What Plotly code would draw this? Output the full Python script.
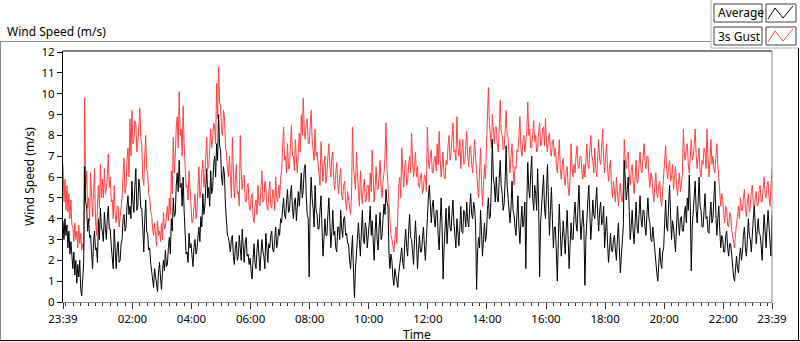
import numpy as np
import pandas as pd
import plotly.graph_objects as go

# ---------------- data (2-minute samples) ----------------
start_time = "2016-01-01 23:39"
sample_minutes = 2

gust = [
    6.6, 4.8, 5.9, 4.4, 5.6, 4.3, 5.2, 4.0, 4.9, 3.7,
    3.6, 2.9, 3.8, 3.0, 3.4, 2.6, 3.7, 2.8, 3.3, 2.5,
    2.8, 2.5, 9.8, 5.5, 6.3, 4.5, 5.0, 3.9, 6.2, 4.6,
    4.1, 5.2, 6.4, 4.0, 3.2, 4.6, 5.6, 4.5, 6.6, 5.0,
    5.9, 5.0, 6.4, 5.2, 5.4, 6.0, 7.1, 5.5, 6.0, 4.8,
    4.9, 4.0, 5.6, 4.2, 3.8, 4.6, 4.6, 3.6, 4.1, 4.8,
    5.0, 6.1, 6.9, 5.2, 5.6, 6.8, 7.4, 6.0, 8.8, 7.0,
    9.2, 7.6, 7.8, 8.7, 8.5, 7.2, 7.6, 8.4, 9.3, 7.9,
    7.5, 6.0, 5.6, 7.0, 8.0, 6.4, 6.2, 5.2, 5.0, 4.4,
    4.2, 3.5, 3.2, 3.8, 3.0, 2.7, 3.9, 3.2, 3.4, 2.9,
    3.8, 3.0, 4.3, 3.5, 3.6, 4.2, 4.6, 3.9, 5.0, 4.2,
    6.3, 5.2, 7.9, 6.2, 7.0, 8.4, 8.9, 7.4, 10.1, 8.0,
    8.3, 7.0, 9.4, 7.6, 6.4, 5.5, 5.6, 4.9, 6.3, 5.4,
    4.6, 3.8, 3.9, 4.8, 5.2, 4.0, 4.3, 5.4, 6.5, 5.0,
    5.3, 6.2, 6.8, 5.5, 6.0, 7.0, 7.9, 6.4, 6.5, 7.4,
    8.3, 7.4, 7.8, 8.6, 8.4, 7.6, 10.5, 8.8, 11.3, 9.6,
    9.4, 8.2, 8.0, 9.2, 8.9, 7.4, 7.2, 6.4, 6.0, 7.0,
    6.2, 5.0, 7.9, 6.3, 5.0, 5.8, 6.6, 5.2, 5.3, 4.6,
    8.0, 6.2, 5.4, 6.0, 6.1, 4.9, 4.8, 5.5, 5.7, 4.6,
    4.4, 5.0, 5.2, 4.1, 3.8, 4.6, 4.9, 4.2, 5.6, 4.7,
    4.6, 5.4, 6.3, 4.8, 4.9, 5.8, 5.5, 4.6, 4.4, 5.2,
    5.8, 4.6, 4.5, 5.4, 5.2, 4.4, 6.0, 5.0, 4.8, 5.6,
    5.0, 5.9, 6.3, 7.4, 8.4, 6.8, 7.0, 6.2, 7.6, 6.4,
    6.4, 7.6, 8.5, 7.0, 7.0, 6.3, 7.8, 6.9, 6.2, 7.2,
    8.1, 7.2, 9.0, 8.0, 9.8, 8.2, 7.8, 8.6, 8.8, 7.6,
    7.6, 8.4, 9.2, 7.8, 7.4, 6.8, 8.3, 7.0, 7.2, 6.6,
    6.4, 5.6, 7.7, 6.6, 5.8, 6.5, 7.0, 5.7, 6.1, 7.0,
    7.6, 6.5, 6.0, 7.0, 7.2, 5.8, 5.4, 6.2, 6.7, 5.6,
    5.2, 6.0, 6.4, 5.1, 4.9, 5.6, 5.8, 4.8, 4.4, 5.3,
    5.0, 4.5, 4.2, 5.1, 8.4, 6.5, 6.0, 5.4, 7.2, 5.8,
    5.3, 4.6, 6.3, 5.2, 4.7, 5.6, 5.9, 4.8, 4.9, 5.6,
    5.6, 4.8, 6.2, 5.3, 7.3, 6.0, 4.8, 5.6, 6.5, 5.4,
    5.4, 6.0, 6.8, 5.5, 5.0, 5.8, 6.2, 7.0, 8.6, 6.4,
    5.6, 4.6, 4.0, 3.2, 3.0, 2.6, 2.4, 3.0, 3.6, 2.8,
    4.6, 5.6, 6.0, 5.0, 7.4, 6.0, 5.5, 6.4, 6.8, 5.6,
    5.8, 6.6, 7.0, 6.2, 8.1, 6.8, 6.0, 6.5, 7.2, 6.0,
    6.5, 5.6, 5.5, 6.0, 6.2, 5.2, 5.4, 6.1, 6.0, 5.3,
    8.4, 6.8, 6.4, 7.0, 7.3, 6.2, 6.2, 6.9, 7.0, 6.3,
    7.6, 6.6, 8.2, 6.9, 6.0, 6.6, 7.2, 6.0, 5.9, 6.8,
    6.6, 7.5, 8.0, 6.8, 7.1, 7.9, 8.6, 7.2, 7.3, 6.8,
    8.9, 7.4, 7.0, 7.8, 6.4, 7.2, 7.8, 6.6, 6.7, 7.5,
    8.2, 7.0, 6.5, 7.4, 7.5, 6.6, 6.2, 7.0, 7.8, 6.9,
    6.1, 5.4, 5.0, 6.2, 7.4, 5.8, 4.6, 5.5, 6.6, 5.9,
    7.2, 8.4, 10.3, 8.6, 8.0, 7.4, 9.0, 8.0, 7.6, 8.4,
    8.4, 7.6, 7.2, 8.2, 9.7, 8.2, 8.0, 7.3, 7.4, 8.2,
    9.2, 8.0, 7.9, 7.0, 6.2, 7.0, 7.6, 6.4, 5.6, 6.5,
    6.4, 7.3, 7.2, 8.0, 8.9, 7.4, 7.0, 7.6, 8.0, 7.2,
    7.6, 8.2, 9.6, 8.0, 8.3, 7.4, 7.4, 8.1, 8.7, 7.7,
    8.0, 7.2, 7.3, 8.2, 8.6, 7.5, 7.6, 8.3, 8.4, 7.5,
    8.8, 7.6, 7.2, 7.9, 8.1, 7.1, 7.0, 7.7, 7.8, 7.0,
    7.4, 6.6, 6.2, 7.0, 7.8, 6.4, 5.9, 6.6, 6.9, 6.0,
    5.6, 6.3, 6.5, 5.5, 5.1, 6.0, 7.6, 6.4, 6.0, 6.6,
    6.2, 7.0, 7.5, 6.5, 6.4, 7.0, 7.0, 6.2, 5.9, 6.6,
    6.0, 6.8, 7.6, 6.6, 6.4, 7.3, 8.0, 7.0, 6.8, 6.2,
    7.4, 6.4, 6.0, 7.0, 7.8, 6.8, 6.6, 7.4, 8.3, 7.0,
    6.2, 7.0, 7.6, 6.4, 5.8, 6.5, 6.8, 5.6, 5.0, 5.8,
    5.4, 4.8, 6.0, 5.2, 4.6, 5.3, 5.7, 5.0, 4.8, 5.5,
    7.8, 6.8, 6.4, 7.0, 7.2, 6.1, 5.6, 6.3, 6.6, 5.8,
    5.2, 6.0, 6.8, 5.7, 5.8, 6.6, 7.2, 6.3, 6.2, 6.9,
    7.6, 6.8, 6.4, 7.0, 7.0, 6.0, 5.5, 6.2, 6.0, 5.3,
    4.8, 5.6, 6.2, 5.2, 5.0, 5.6, 5.8, 4.9, 4.6, 5.4,
    6.2, 6.8, 7.5, 6.4, 5.9, 6.5, 6.8, 5.8, 6.0, 6.6,
    5.4, 6.0, 6.5, 5.6, 5.1, 5.7, 6.2, 5.3, 5.6, 6.2,
    8.3, 7.0, 6.8, 7.4, 7.6, 6.6, 6.2, 7.0, 7.8, 6.8,
    7.0, 7.6, 8.3, 7.0, 6.4, 7.0, 7.4, 6.2, 6.0, 6.8,
    6.6, 7.4, 7.2, 6.4, 8.3, 7.0, 6.0, 6.8, 7.8, 6.6,
    7.0, 6.4, 6.2, 7.0, 7.6, 6.6, 5.8, 5.0, 4.6, 5.2,
    4.9, 4.2, 3.8, 4.6, 4.4, 3.7, 3.6, 4.3, 4.2, 3.5,
    3.2, 2.8, 2.6, 3.3, 3.8, 4.4, 4.6, 4.0, 5.0, 4.4,
    4.4, 5.0, 5.4, 4.5, 4.1, 4.8, 5.2, 4.3, 4.6, 5.3,
    5.6, 4.8, 4.4, 5.0, 5.3, 4.6, 4.7, 5.4, 5.6, 4.8,
    4.8, 5.4, 6.0, 5.2, 5.0, 5.6, 5.8, 5.0, 4.6, 5.6,
    6.4,
]

average = [
    3.9, 3.0, 4.0, 3.2, 3.7, 2.6, 3.4, 2.3, 2.9, 2.0,
    1.6, 2.4, 1.3, 2.0, 0.9, 1.8, 1.2, 2.0, 0.6, 0.3,
    1.2, 1.9, 6.5, 4.8, 4.6, 3.4, 4.0, 3.1, 3.2, 2.6,
    1.6, 2.8, 3.4, 2.5, 2.6, 1.9, 4.0, 3.0, 4.5, 3.6,
    3.4, 2.9, 4.3, 3.6, 3.0, 4.0, 4.6, 3.5, 3.5, 2.7,
    2.3, 1.6, 3.5, 2.2, 1.6, 2.6, 2.9, 1.9, 2.0, 2.8,
    3.0, 4.0, 4.2, 3.4, 3.6, 4.6, 5.1, 4.2, 4.6, 4.0,
    5.8, 4.8, 4.3, 5.6, 6.4, 4.4, 4.6, 5.9, 5.5, 4.5,
    4.5, 3.6, 2.4, 3.9, 4.9, 3.4, 3.2, 2.5, 2.6, 1.9,
    1.5, 1.0, 0.7, 1.6, 1.2, 0.6, 0.5, 1.4, 1.9, 1.2,
    0.6, 1.4, 2.0, 1.5, 2.5, 1.7, 1.8, 2.6, 3.1, 2.3,
    4.0, 3.4, 5.0, 4.1, 4.2, 5.6, 6.2, 5.3, 6.8, 5.5,
    5.7, 4.6, 6.0, 4.4, 3.0, 2.3, 2.4, 1.9, 3.3, 2.6,
    2.8, 2.0, 1.7, 2.6, 3.0, 2.3, 2.5, 3.1, 3.6, 2.9,
    4.1, 3.6, 5.2, 4.2, 4.6, 5.5, 6.4, 5.0, 5.5, 4.6,
    6.3, 5.2, 5.5, 6.6, 7.0, 6.0, 7.6, 6.8, 9.0, 7.5,
    7.3, 6.0, 5.6, 6.5, 6.1, 4.6, 4.0, 3.2, 3.1, 2.6,
    2.4, 3.0, 3.2, 2.2, 1.8, 2.6, 2.9, 2.0, 2.2, 3.2,
    2.7, 2.0, 3.5, 2.4, 1.9, 2.8, 3.1, 2.2, 2.3, 1.8,
    2.1, 1.5, 1.1, 2.0, 2.8, 1.9, 1.6, 2.5, 3.0, 2.2,
    1.5, 2.3, 3.0, 2.4, 2.2, 1.6, 3.3, 2.6, 1.9, 2.8,
    2.6, 3.2, 3.4, 2.5, 2.4, 3.0, 3.6, 2.6, 2.9, 3.5,
    3.2, 4.0, 3.8, 4.5, 5.0, 4.2, 4.0, 4.8, 5.4, 4.3,
    4.4, 5.2, 5.6, 4.5, 4.0, 4.8, 5.0, 3.9, 4.6, 5.3,
    4.6, 5.8, 6.2, 5.0, 5.4, 6.4, 6.6, 5.1, 4.2, 4.0,
    1.2, 4.6, 6.0, 5.0, 4.5, 3.6, 5.6, 4.4, 4.2, 3.5,
    3.5, 4.4, 5.1, 3.6, 2.2, 3.0, 4.0, 3.2, 3.2, 4.2,
    5.0, 3.8, 2.6, 3.4, 4.4, 3.2, 3.4, 2.6, 2.4, 3.6,
    3.6, 3.0, 4.4, 3.5, 3.1, 4.0, 4.1, 3.2, 3.3, 2.8,
    2.8, 2.0, 1.6, 2.4, 3.2, 1.4, 0.2, 1.6, 2.5, 3.3,
    3.8, 3.0, 2.2, 3.4, 4.4, 3.0, 2.8, 3.8, 3.5, 2.6,
    3.1, 3.8, 4.6, 3.2, 3.9, 2.6, 2.0, 3.4, 4.2, 3.0,
    2.5, 3.6, 4.3, 3.0, 3.2, 4.0, 4.7, 4.2, 5.4, 4.8,
    4.6, 2.4, 1.6, 2.3, 2.0, 1.2, 0.8, 1.6, 1.3, 0.9,
    0.7, 1.4, 1.8, 2.4, 2.6, 1.9, 1.6, 2.8, 3.5, 2.6,
    2.2, 3.4, 4.2, 3.1, 3.0, 2.4, 1.8, 3.0, 3.9, 2.8,
    1.6, 2.5, 3.2, 2.4, 2.4, 3.0, 3.6, 2.7, 2.0, 3.0,
    4.2, 5.0, 5.6, 4.4, 3.8, 4.6, 4.9, 4.0, 3.6, 4.4,
    4.4, 3.2, 2.5, 3.8, 5.0, 3.6, 1.1, 2.6, 3.7, 4.5,
    2.8, 3.6, 4.6, 3.6, 3.4, 4.2, 4.9, 3.8, 3.0, 2.6,
    4.0, 3.2, 2.7, 3.6, 4.6, 3.4, 3.3, 4.4, 4.2, 3.6,
    4.8, 3.9, 3.6, 4.5, 5.2, 4.2, 4.0, 4.8, 4.5, 3.7,
    0.6, 2.4, 3.1, 2.6, 4.4, 3.4, 2.2, 3.0, 3.8, 2.9,
    3.2, 4.4, 5.0, 4.0, 4.1, 5.6, 7.8, 6.0, 5.6, 4.8,
    6.0, 5.0, 4.8, 5.9, 6.8, 5.6, 5.2, 4.4, 4.7, 5.8,
    7.5, 5.6, 5.0, 4.3, 3.8, 4.6, 5.8, 4.4, 4.2, 3.6,
    3.2, 4.2, 5.1, 3.6, 2.8, 3.8, 4.6, 3.6, 3.9, 4.8,
    1.6, 4.8, 6.7, 5.4, 5.0, 6.2, 7.0, 5.0, 4.4, 5.6,
    5.2, 4.4, 6.4, 4.8, 1.2, 3.8, 4.6, 5.6, 6.1, 4.5,
    4.0, 5.4, 6.6, 4.8, 3.2, 4.4, 5.5, 4.0, 2.6, 3.6,
    3.6, 2.4, 1.0, 3.0, 4.7, 3.4, 2.2, 3.0, 3.9, 3.1,
    2.3, 3.5, 4.4, 3.0, 1.6, 2.8, 3.8, 3.0, 3.0, 4.2,
    4.8, 3.8, 3.4, 4.6, 5.6, 4.0, 3.0, 3.8, 4.4, 3.5,
    0.8, 3.0, 4.2, 4.9, 5.6, 4.0, 3.0, 3.8, 4.9, 4.2,
    4.0, 4.8, 5.5, 4.2, 3.4, 4.4, 4.8, 3.7, 3.9, 4.6,
    2.6, 3.4, 4.1, 2.8, 1.9, 2.6, 3.3, 2.5, 2.4, 3.0,
    3.2, 2.5, 2.0, 3.0, 3.8, 2.6, 1.4, 2.2, 2.8, 3.6,
    6.8, 5.6, 4.9, 5.4, 6.0, 4.4, 3.0, 3.6, 4.4, 3.4,
    2.8, 3.8, 4.8, 3.6, 3.3, 4.2, 5.1, 4.0, 3.6, 4.4,
    4.4, 3.6, 3.2, 4.2, 5.0, 4.0, 3.8, 3.0, 2.9, 3.6,
    3.0, 2.2, 1.8, 1.4, 1.0, 2.0, 2.6, 1.9, 1.6, 2.4,
    2.6, 3.8, 4.9, 3.6, 3.4, 4.6, 5.6, 4.2, 3.0, 3.9,
    3.6, 3.0, 2.4, 3.6, 4.6, 3.8, 3.2, 4.0, 4.1, 3.4,
    3.4, 4.2, 4.6, 3.8, 5.0, 4.4, 6.1, 4.6, 1.5, 3.6,
    4.2, 5.0, 5.8, 4.4, 3.8, 4.8, 6.0, 4.6, 4.4, 3.6,
    3.6, 4.4, 5.2, 4.0, 4.1, 3.4, 3.3, 4.2, 4.8, 3.8,
    4.0, 5.0, 5.8, 4.2, 3.2, 4.0, 4.6, 3.4, 2.6, 3.2,
    3.0, 2.4, 2.4, 3.2, 3.4, 2.6, 2.2, 2.8, 2.8, 2.3,
    1.6, 1.2, 1.0, 1.8, 2.2, 1.6, 1.4, 2.2, 2.6, 2.0,
    2.4, 3.2, 3.6, 2.6, 2.2, 3.0, 4.0, 3.2, 3.0, 2.4,
    3.4, 4.0, 4.6, 3.6, 2.8, 3.4, 4.0, 3.3, 3.2, 2.7,
    2.0, 3.2, 4.2, 3.4, 2.6, 3.6, 4.4, 3.6, 3.0, 2.2,
    4.2,
]

x_tick_labels = ["23:39", "02:00", "04:00", "06:00", "08:00", "10:00", "12:00",
                 "14:00", "16:00", "18:00", "20:00", "22:00", "23:39"]
x_tick_times = ["2016-01-01 23:39", "2016-01-02 02:00", "2016-01-02 04:00",
                "2016-01-02 06:00", "2016-01-02 08:00", "2016-01-02 10:00",
                "2016-01-02 12:00", "2016-01-02 14:00", "2016-01-02 16:00",
                "2016-01-02 18:00", "2016-01-02 20:00", "2016-01-02 22:00",
                "2016-01-02 23:39"]
y_ticks = list(range(0, 13))

# ---------------- figure ----------------
t0 = pd.Timestamp(start_time)
times_gust = t0 + pd.to_timedelta(np.arange(len(gust)) * sample_minutes, unit="min")
times_avg = t0 + pd.to_timedelta(np.arange(len(average)) * sample_minutes, unit="min")
t_end = pd.Timestamp(x_tick_times[-1])
minor_vals = pd.date_range("2016-01-01 23:45", t_end, freq="15min")

FONT = "Noto Sans"
W_PX, H_PX = 800, 342
L, R, T, B = 63, 28, 51, 40
PW, PH = W_PX - L - R, H_PX - T - B


def px(x):
    return (x - L) / PW


def py(y):
    return (H_PX - B - y) / PH


fig = go.Figure()
fig.add_trace(go.Scatter(x=times_gust, y=gust, mode="lines", name="3s Gust",
                         line=dict(color="#ff4040", width=1), showlegend=False))
fig.add_trace(go.Scatter(x=times_avg, y=average, mode="lines", name="Average",
                         line=dict(color="#000000", width=1), showlegend=False))

fig.update_layout(
    width=W_PX, height=H_PX,
    margin=dict(l=L, r=R, t=T, b=B, pad=0, autoexpand=False),
    paper_bgcolor="white", plot_bgcolor="white",
    font=dict(family=FONT, size=12, color="black"),
    showlegend=False,
)

fig.update_xaxes(
    range=[t0, t_end], type="date",
    tickmode="array", tickvals=x_tick_times, ticktext=x_tick_labels,
    ticks="outside", ticklen=6, tickwidth=1, tickcolor="#333333",
    tickfont=dict(family=FONT, size=11.5, color="black"),
    showgrid=False, zeroline=False,
    showline=True, linecolor="#8a8a8a", linewidth=1,
    minor=dict(tickmode="array", tickvals=list(minor_vals), ticks="outside",
               ticklen=3, tickwidth=1, tickcolor="#333333", showgrid=False),
    title=dict(text="", font=dict(family=FONT, size=12)),
    automargin=False,
)
fig.update_yaxes(
    range=[0, 12.05], tickmode="array", tickvals=y_ticks,
    ticks="outside", ticklen=5, tickwidth=1, tickcolor="black",
    tickfont=dict(family=FONT, size=11.5, color="black"),
    showgrid=False, zeroline=False,
    showline=True, linecolor="black", linewidth=1,
    title=dict(text="Wind Speed (m/s)", font=dict(family=FONT, size=12), standoff=4),
    automargin=False,
)

shapes = []
# plot frame: top black, right gray
shapes.append(dict(type="line", xref="paper", yref="paper", x0=0, x1=1, y0=1, y1=1,
                   line=dict(color="black", width=1)))
shapes.append(dict(type="line", xref="paper", yref="paper", x0=1, x1=1, y0=0, y1=1,
                   line=dict(color="#8a8a8a", width=1)))
# outer panel border
shapes.append(dict(type="line", xref="paper", yref="paper", x0=px(0), x1=px(711),
                   y0=py(41.5), y1=py(41.5), line=dict(color="#8a8a8a", width=1)))
shapes.append(dict(type="line", xref="paper", yref="paper", x0=px(0.5), x1=px(0.5),
                   y0=py(41.5), y1=py(341), line=dict(color="#8a8a8a", width=1)))
shapes.append(dict(type="line", xref="paper", yref="paper", x0=px(0), x1=px(800),
                   y0=py(340.5), y1=py(340.5), line=dict(color="black", width=1)))
shapes.append(dict(type="line", xref="paper", yref="paper", x0=px(798.5), x1=px(798.5),
                   y0=py(48), y1=py(341), line=dict(color="black", width=1)))
# legend frame
shapes.append(dict(type="line", xref="paper", yref="paper", x0=px(711), x1=px(711),
                   y0=py(0), y1=py(48), line=dict(color="#b0b0b0", width=1)))
shapes.append(dict(type="line", xref="paper", yref="paper", x0=px(711), x1=px(799),
                   y0=py(48), y1=py(48), line=dict(color="#b0b0b0", width=1)))
# legend boxes
for (y0, y1) in [(4, 22), (27, 45)]:
    shapes.append(dict(type="rect", xref="paper", yref="paper", x0=px(714), x1=px(762),
                       y0=py(y1), y1=py(y0), line=dict(color="#404040", width=1),
                       fillcolor="white"))
    shapes.append(dict(type="rect", xref="paper", yref="paper", x0=px(766), x1=px(796),
                       y0=py(y1), y1=py(y0), line=dict(color="#404040", width=1),
                       fillcolor="white"))


def zig(yoff):
    pts = [(768, 19), (775, 8), (783, 18), (793, 6)]
    return "M " + " L ".join(f"{px(a):.5f},{py(b + yoff):.5f}" for a, b in pts)


shapes.append(dict(type="path", xref="paper", yref="paper", path=zig(0),
                   line=dict(color="black", width=1)))
shapes.append(dict(type="path", xref="paper", yref="paper", path=zig(23),
                   line=dict(color="#ff4040", width=1)))

annotations = [
    dict(text="Wind Speed (m/s)", xref="paper", yref="paper", x=px(5), y=py(31),
         xanchor="left", yanchor="middle", showarrow=False,
         font=dict(family=FONT, size=12, color="black")),
    dict(text="Time", xref="paper", yref="paper", x=px(417), y=py(334),
         xanchor="center", yanchor="middle", showarrow=False,
         font=dict(family=FONT, size=12, color="black")),
    dict(text="Average", xref="paper", yref="paper", x=px(716), y=py(13),
         xanchor="left", yanchor="middle", showarrow=False,
         font=dict(family=FONT, size=12, color="black")),
    dict(text="3s Gust", xref="paper", yref="paper", x=px(716), y=py(36),
         xanchor="left", yanchor="middle", showarrow=False,
         font=dict(family=FONT, size=12, color="black")),
]

fig.update_layout(shapes=shapes, annotations=annotations)
fig.write_html("out.html", config={"displayModeBar": False},
               post_script="document.body.style.margin='0px';")
